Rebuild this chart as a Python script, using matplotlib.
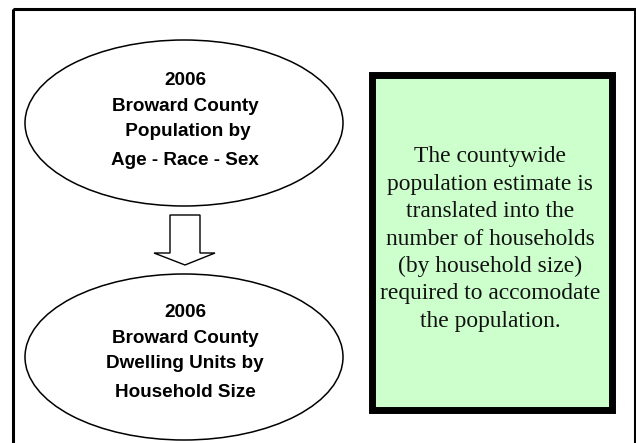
import matplotlib
matplotlib.use("Agg")
import matplotlib.pyplot as plt
import matplotlib.patches as mpatches

# texts of the flow diagram
top_lines = ["2006", "Broward County", " Population by", "Age - Race - Sex"]
bottom_lines = ["2006", "Broward County", "Dwelling Units by", "Household Size"]
note_lines = ["The countywide", "population estimate is", "translated into the",
              "number of households", "(by household size)",
              "required to accomodate", "the population."]

fig = plt.figure(figsize=(6.36, 4.43), dpi=100)
ax = fig.add_axes([0, 0, 1, 1])
ax.set_xlim(0, 636)
ax.set_ylim(443, 0)
ax.axis("off")

# outer frame (bottom edge runs off the picture)
ax.add_patch(mpatches.Rectangle((12.5, 8.5), 622, 460, fill=False,
                                edgecolor="black", lw=2.2))

# ellipses
for cy in [123, 357]:
    ax.add_patch(mpatches.Ellipse((184, cy), 318, 166, fill=False,
                                  edgecolor="black", lw=1.1))

# block arrow between the ellipses
arrow_pts = [(170, 215), (200, 215), (200, 253), (215, 253), (185, 265),
             (154, 253), (170, 253)]
ax.add_patch(mpatches.Polygon(arrow_pts, closed=True, facecolor="white",
                              edgecolor="black", lw=1.0))

line_offsets = [0, 26, 51, 80]
for lines, base in [(top_lines, 85), (bottom_lines, 317)]:
    for txt, off in zip(lines, line_offsets):
        ax.text(185, base + off, txt, ha="center", va="baseline",
                family="Liberation Sans", weight="bold", fontsize=13.6)

# green note box
ax.add_patch(mpatches.Rectangle((371.5, 74.5), 240, 335, facecolor="#ccffcc",
                                edgecolor="black", lw=5.0, joinstyle="miter"))
for i, txt in enumerate(note_lines):
    ax.text(490, 162 + i * 27.5, txt, ha="center", va="baseline",
            family="Liberation Serif", fontsize=16.9, color="#111111")

fig.savefig("out.png", dpi=100)
